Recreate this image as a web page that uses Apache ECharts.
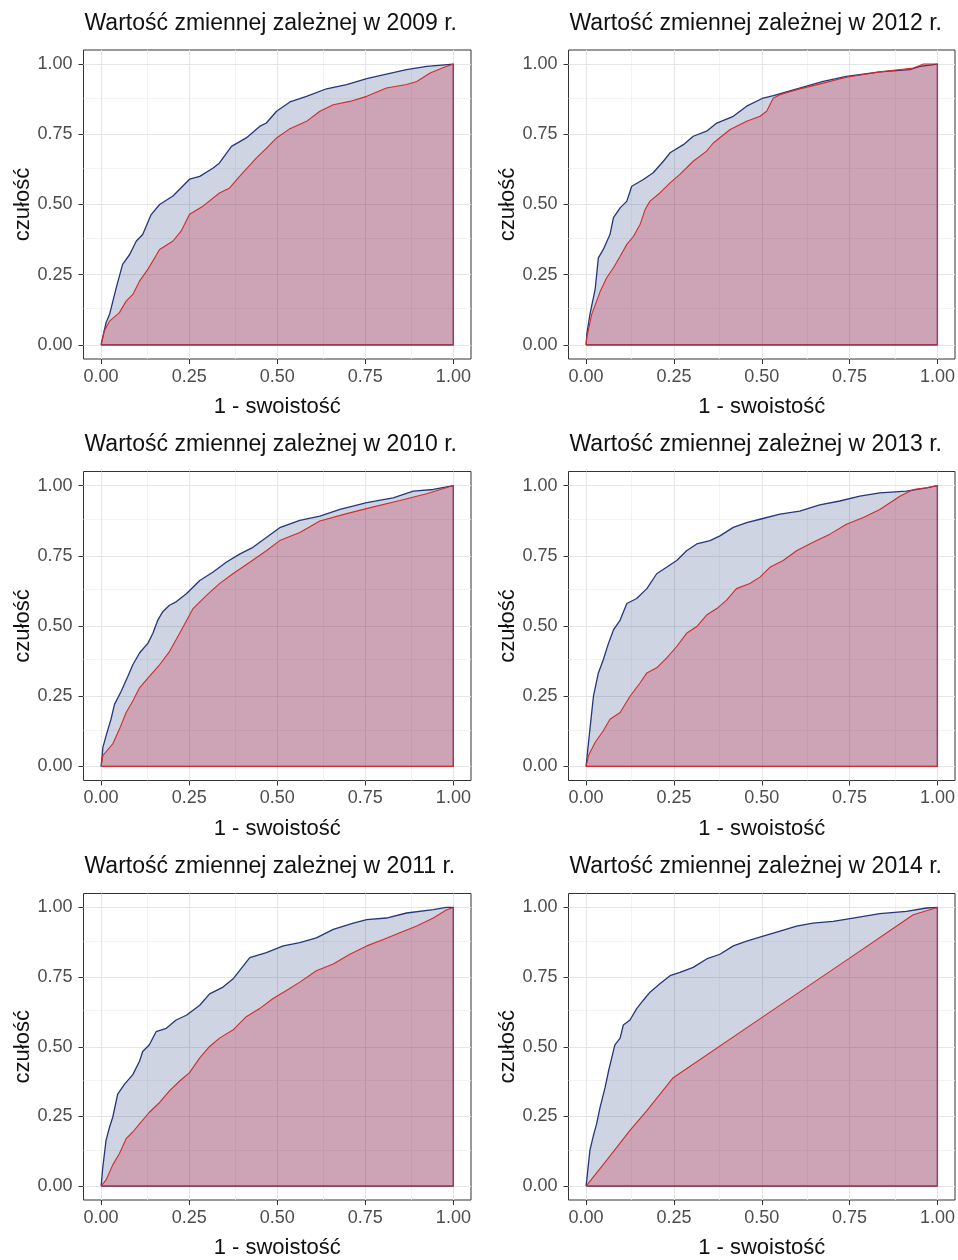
<!DOCTYPE html>
<html><head><meta charset="utf-8">
<script src="https://cdn.jsdelivr.net/npm/echarts@6/dist/echarts.min.js"></script>
<style>html,body{margin:0;padding:0;background:#fff}#c{width:958px;height:1260px}</style>
</head><body><div id="c"></div>
<script>
const years = ['2009', '2010', '2011', '2012', '2013', '2014'];
const tickValues = [0, 0.25, 0.5, 0.75, 1];
const minorValues = [0.125, 0.375, 0.625, 0.875];
const xName = '1 - swoistość';
const yName = 'czułość';

const blue2009 = [[0,0],[0.005,0.03],[0.014,0.079],[0.024,0.109],[0.043,0.204],[0.061,0.287],[0.081,0.322],[0.1,0.37],[0.118,0.393],[0.142,0.464],[0.166,0.5],[0.204,0.53],[0.251,0.59],[0.28,0.6],[0.318,0.63],[0.336,0.648],[0.37,0.707],[0.412,0.737],[0.45,0.778],[0.469,0.79],[0.498,0.832],[0.536,0.865],[0.583,0.885],[0.64,0.912],[0.697,0.927],[0.754,0.948],[0.81,0.964],[0.867,0.98],[0.924,0.992],[1,1]];
const red2009 = [[0,0],[0.009,0.05],[0.024,0.085],[0.052,0.115],[0.071,0.156],[0.09,0.18],[0.109,0.227],[0.133,0.27],[0.166,0.34],[0.204,0.37],[0.227,0.405],[0.251,0.465],[0.289,0.494],[0.336,0.541],[0.365,0.559],[0.393,0.6],[0.441,0.666],[0.469,0.7],[0.498,0.737],[0.536,0.77],[0.583,0.796],[0.621,0.832],[0.659,0.855],[0.706,0.867],[0.754,0.885],[0.81,0.915],[0.867,0.927],[0.896,0.938],[0.934,0.968],[0.972,0.988],[1,1]];

const blue2010 = [[0,0],[0.005,0.068],[0.014,0.109],[0.028,0.168],[0.038,0.221],[0.057,0.268],[0.076,0.321],[0.09,0.362],[0.109,0.404],[0.133,0.439],[0.147,0.474],[0.161,0.521],[0.175,0.551],[0.194,0.574],[0.213,0.586],[0.242,0.615],[0.28,0.662],[0.318,0.692],[0.355,0.727],[0.393,0.756],[0.431,0.78],[0.469,0.815],[0.507,0.85],[0.564,0.876],[0.621,0.891],[0.678,0.915],[0.754,0.939],[0.829,0.956],[0.886,0.98],[0.943,0.986],[1,1]];
const red2010 = [[0,0],[0.005,0.039],[0.033,0.08],[0.052,0.133],[0.071,0.192],[0.09,0.233],[0.109,0.28],[0.137,0.321],[0.166,0.362],[0.194,0.409],[0.223,0.474],[0.261,0.562],[0.299,0.609],[0.336,0.651],[0.374,0.686],[0.422,0.727],[0.469,0.768],[0.507,0.804],[0.564,0.833],[0.621,0.874],[0.697,0.9],[0.773,0.924],[0.848,0.947],[0.924,0.971],[1,1]];

const blue2011 = [[0,0],[0.005,0.07],[0.014,0.164],[0.024,0.212],[0.033,0.247],[0.047,0.33],[0.066,0.365],[0.09,0.4],[0.109,0.448],[0.118,0.483],[0.137,0.507],[0.156,0.554],[0.185,0.566],[0.213,0.596],[0.242,0.613],[0.28,0.649],[0.308,0.69],[0.346,0.714],[0.374,0.743],[0.393,0.773],[0.422,0.82],[0.469,0.838],[0.517,0.862],[0.564,0.874],[0.611,0.891],[0.659,0.921],[0.716,0.944],[0.754,0.956],[0.81,0.962],[0.867,0.98],[0.943,0.992],[0.98,1],[1,1]];
const red2011 = [[0,0],[0.014,0.022],[0.033,0.076],[0.052,0.117],[0.071,0.17],[0.09,0.194],[0.109,0.223],[0.137,0.265],[0.166,0.3],[0.194,0.342],[0.223,0.377],[0.251,0.407],[0.28,0.46],[0.308,0.501],[0.336,0.531],[0.374,0.56],[0.412,0.608],[0.45,0.637],[0.488,0.673],[0.526,0.702],[0.564,0.732],[0.611,0.773],[0.659,0.797],[0.706,0.832],[0.754,0.862],[0.801,0.885],[0.848,0.909],[0.896,0.933],[0.943,0.962],[0.981,0.992],[1,1]];

const blue2012 = [[0,0],[0.002,0.038],[0.011,0.109],[0.026,0.2],[0.035,0.31],[0.049,0.34],[0.068,0.393],[0.078,0.453],[0.097,0.488],[0.116,0.512],[0.13,0.565],[0.163,0.589],[0.191,0.613],[0.22,0.654],[0.239,0.684],[0.277,0.713],[0.305,0.743],[0.343,0.761],[0.372,0.79],[0.419,0.814],[0.457,0.85],[0.504,0.879],[0.533,0.888],[0.6,0.912],[0.675,0.938],[0.741,0.956],[0.836,0.972],[0.921,0.98],[0.95,0.992],[1,1]];
const red2012 = [[0,0],[0.002,0.026],[0.016,0.109],[0.03,0.156],[0.04,0.19],[0.059,0.24],[0.078,0.275],[0.097,0.316],[0.116,0.358],[0.135,0.387],[0.154,0.43],[0.168,0.482],[0.182,0.512],[0.21,0.541],[0.239,0.577],[0.267,0.607],[0.305,0.654],[0.343,0.69],[0.362,0.719],[0.41,0.767],[0.457,0.796],[0.495,0.814],[0.514,0.832],[0.533,0.879],[0.552,0.891],[0.6,0.909],[0.675,0.932],[0.741,0.953],[0.836,0.972],[0.931,0.986],[0.95,0.995],[0.96,1],[1,1]];

const blue2013 = [[0,0],[0.004,0.05],[0.011,0.133],[0.021,0.25],[0.035,0.333],[0.049,0.38],[0.064,0.439],[0.078,0.486],[0.097,0.521],[0.116,0.58],[0.144,0.598],[0.173,0.633],[0.201,0.686],[0.229,0.709],[0.258,0.733],[0.286,0.768],[0.315,0.792],[0.353,0.804],[0.381,0.821],[0.419,0.851],[0.457,0.868],[0.495,0.88],[0.552,0.898],[0.608,0.909],[0.665,0.931],[0.722,0.945],[0.779,0.962],[0.836,0.974],[0.912,0.98],[0.969,0.992],[1,1]];
const red2013 = [[0,0],[0.007,0.039],[0.026,0.086],[0.049,0.127],[0.068,0.168],[0.097,0.192],[0.125,0.25],[0.154,0.298],[0.173,0.333],[0.201,0.351],[0.229,0.386],[0.258,0.427],[0.286,0.474],[0.315,0.498],[0.343,0.539],[0.372,0.562],[0.4,0.592],[0.428,0.633],[0.466,0.651],[0.495,0.674],[0.523,0.709],[0.561,0.733],[0.599,0.768],[0.646,0.798],[0.694,0.827],[0.741,0.862],[0.789,0.886],[0.836,0.915],[0.893,0.962],[0.931,0.986],[0.969,0.992],[1,1]];

const blue2014 = [[0,0],[0.002,0.022],[0.011,0.129],[0.021,0.182],[0.03,0.223],[0.04,0.283],[0.054,0.353],[0.064,0.413],[0.073,0.46],[0.082,0.507],[0.097,0.531],[0.106,0.578],[0.125,0.596],[0.144,0.637],[0.163,0.667],[0.182,0.696],[0.21,0.726],[0.239,0.755],[0.267,0.767],[0.305,0.785],[0.343,0.815],[0.381,0.832],[0.419,0.862],[0.457,0.879],[0.504,0.897],[0.552,0.915],[0.599,0.933],[0.646,0.944],[0.703,0.95],[0.76,0.962],[0.836,0.978],[0.912,0.986],[0.969,0.998],[1,1]];
const red2014 = [[0,0],[0.06,0.095],[0.125,0.2],[0.173,0.271],[0.248,0.389],[0.504,0.608],[0.75,0.818],[0.931,0.974],[1,1]];

const blueCurves = [blue2009, blue2010, blue2011, blue2012, blue2013, blue2014];
const redCurves = [red2009, red2010, red2011, red2012, red2013, red2014];

const FONT = 'Liberation Sans, Arial, sans-serif';
const colLeft = [83.5, 568.5];
const colWidth = [387.5, 386.5];
const rowTop = [50, 471.5, 893.5];
const panelH = 309;

function closePolygon(curve) {
  return curve.concat([[1, 0], [0, 0]]);
}

const majorStyle = {type: 'solid', color: '#e6e6e6', width: 1.1};
const minorStyle = {type: 'solid', color: '#f0f0f0', width: 0.8};
function gridLines() {
  const d = [];
  minorValues.forEach(v => { d.push({xAxis: v, lineStyle: minorStyle}); d.push({yAxis: v, lineStyle: minorStyle}); });
  tickValues.forEach(v => { d.push({xAxis: v, lineStyle: majorStyle}); d.push({yAxis: v, lineStyle: majorStyle}); });
  return d;
}

const grids = [], xAxes = [], yAxes = [], series = [], titles = [];
years.forEach((yr, i) => {
  const col = Math.floor(i / 3), row = i % 3;
  grids.push({left: colLeft[col], top: rowTop[row], width: colWidth[col], height: panelH,
    show: true, borderColor: '#333', borderWidth: 1, backgroundColor: 'transparent', containLabel: false});
  titles.push({text: 'Wartość zmiennej zależnej w ' + yr + ' r.', left: colLeft[col] + 1, top: rowTop[row] - 38, padding: 0,
    textStyle: {fontFamily: FONT, fontSize: 23, fontWeight: 'normal', color: '#111'}});
  const common = {
    gridIndex: i, type: 'value', min: -0.05, max: 1.05,
    axisLine: {show: false, onZero: false},
    axisTick: {show: true, length: 5, lineStyle: {color: '#333', width: 1}, customValues: tickValues},
    axisLabel: {customValues: tickValues, formatter: v => v.toFixed(2), fontFamily: FONT, fontSize: 18, color: '#4d4d4d'},
    splitLine: {show: false}, minorSplitLine: {show: false},
    nameLocation: 'middle', nameTextStyle: {fontFamily: FONT, fontSize: 22, color: '#111'}
  };
  xAxes.push(Object.assign({}, common, {name: xName, nameGap: 37,
    axisLabel: Object.assign({}, common.axisLabel, {margin: 9})}));
  yAxes.push(Object.assign({}, common, {name: yName, nameGap: 46, nameRotate: 90,
    axisLabel: Object.assign({}, common.axisLabel, {margin: 11})}));
  series.push({type: 'line', xAxisIndex: i, yAxisIndex: i, data: closePolygon(blueCurves[i]),
    symbol: 'none', showSymbol: false, silent: true, animation: false, z: 2,
    lineStyle: {color: '#25377a', width: 1.3},
    areaStyle: {color: 'rgba(31,58,122,0.22)', opacity: 1},
    markLine: {silent: true, symbol: 'none', z: 1, animation: false, label: {show: false}, data: gridLines()}});
  series.push({type: 'line', xAxisIndex: i, yAxisIndex: i, data: closePolygon(redCurves[i]),
    symbol: 'none', showSymbol: false, silent: true, animation: false, z: 3,
    lineStyle: {color: '#d42b2b', width: 1.1},
    areaStyle: {color: 'rgba(200,20,50,0.25)', opacity: 1}});
});

const chart = echarts.init(document.getElementById('c'), null, {renderer: 'canvas'});
chart.setOption({backgroundColor: '#fff', animation: false, title: titles, grid: grids, xAxis: xAxes, yAxis: yAxes, series: series});
</script></body></html>
